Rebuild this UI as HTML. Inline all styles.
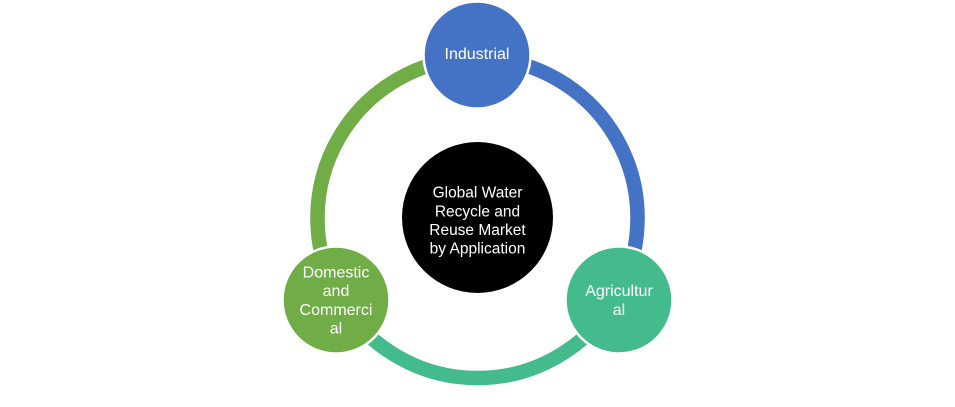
<!DOCTYPE html>
<html>
<head>
<meta charset="utf-8">
<style>
  html, body { margin:0; padding:0; background:#ffffff; }
  body { width:955px; height:407px; overflow:hidden; }
  svg { display:block; }
  text { font-family: "Liberation Sans", sans-serif; fill:#ffffff; }
</style>
</head>
<body>
<svg width="955" height="407" viewBox="0 0 955 407" xmlns="http://www.w3.org/2000/svg">
  <!-- ring segments (center 477.5,218 r 160) -->
  <g fill="none" stroke-width="14.5">
    <!-- blue: Industrial -> Agricultural -->
    <path d="M 477.5 58 A 160 160 0 0 1 616.1 298" stroke="#4472C4"/>
    <!-- teal: Agricultural -> Domestic -->
    <path d="M 616.1 298 A 160 160 0 0 1 338.9 298" stroke="#44BB8D"/>
    <!-- green: Domestic -> Industrial -->
    <path d="M 338.9 298 A 160 160 0 0 1 477.5 58" stroke="#70AD47"/>
  </g>

  <!-- center circle -->
  <circle cx="477.5" cy="217.5" r="75.5" fill="#000000"/>
  <g font-size="15.5" text-anchor="middle">
    <text x="477.5" y="197.5">Global Water</text>
    <text x="477.5" y="216.3">Recycle and</text>
    <text x="477.5" y="235">Reuse Market</text>
    <text x="477.5" y="253.7">by Application</text>
  </g>

  <!-- Industrial -->
  <circle cx="477" cy="55" r="53.5" fill="#4472C4" stroke="#ffffff" stroke-width="2.5"/>
  <text x="477" y="59" font-size="16" text-anchor="middle">Industrial</text>

  <!-- Agricultural -->
  <circle cx="619" cy="300" r="53.5" fill="#44BB8D" stroke="#ffffff" stroke-width="2.5"/>
  <g font-size="16" text-anchor="middle">
    <text x="619" y="296">Agricultur</text>
    <text x="619" y="315">al</text>
  </g>

  <!-- Domestic and Commercial -->
  <circle cx="336" cy="300" r="53.5" fill="#70AD47" stroke="#ffffff" stroke-width="2.5"/>
  <g font-size="16" text-anchor="middle">
    <text x="336" y="277.5">Domestic</text>
    <text x="336" y="296">and</text>
    <text x="336" y="315">Commerci</text>
    <text x="336" y="333.5">al</text>
  </g>
</svg>
</body>
</html>
